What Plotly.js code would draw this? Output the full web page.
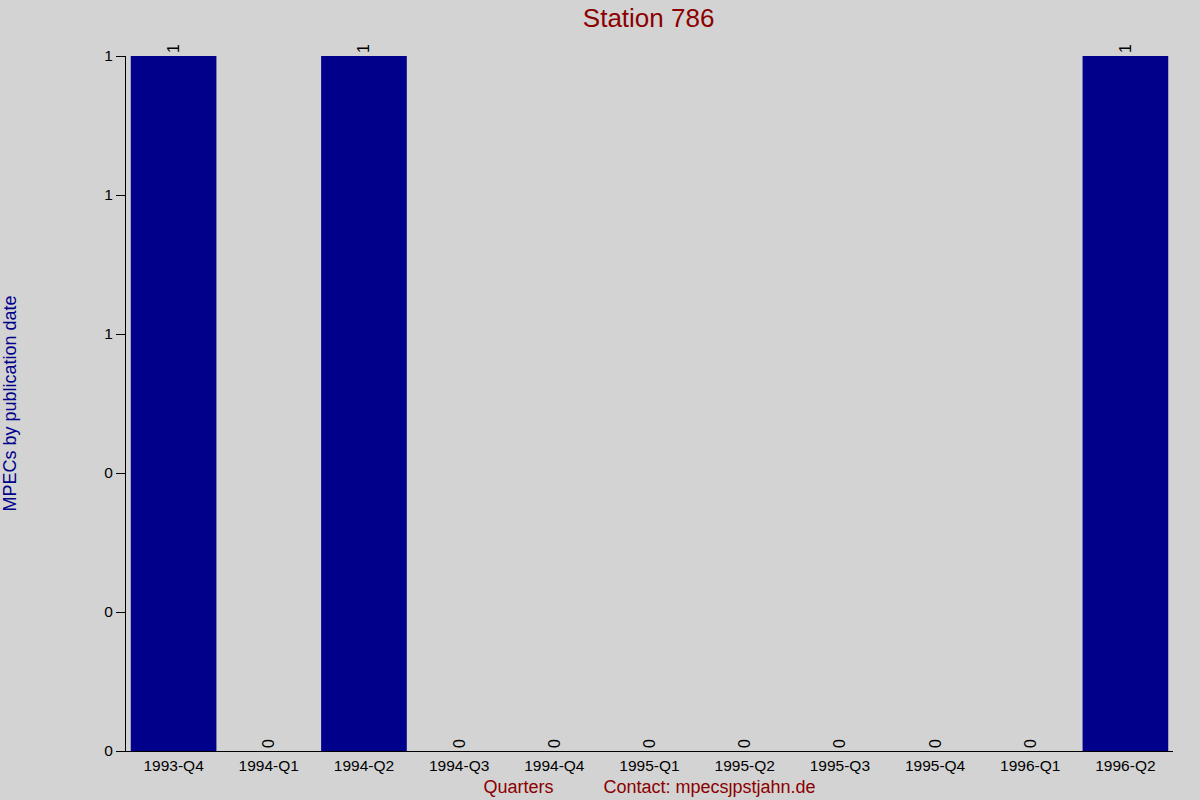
<!DOCTYPE html>
<html>
<head>
<meta charset="utf-8">
<script src="https://cdn.plot.ly/plotly-3.0.1.min.js"></script>
<style>
  html, body { margin: 0; padding: 0; background: #d3d3d3; }
  #chart { width: 1200px; height: 800px; }
</style>
</head>
<body>
<div id="chart"></div>
<script>
const quarters = [
  "1993-Q4", "1994-Q1", "1994-Q2", "1994-Q3", "1994-Q4", "1995-Q1",
  "1995-Q2", "1995-Q3", "1995-Q4", "1996-Q1", "1996-Q2",
];
const mpecCounts = [1, 0, 1, 0, 0, 0, 0, 0, 0, 0, 1];

// y ticks are printed rounded to whole numbers, as in the original
const yTickVals = [0, 0.2, 0.4, 0.6, 0.8, 1];
const yTickText = ["0", "0", "0", "1", "1", "1"];

const font = "Liberation Sans, Arial, sans-serif";

const trace = {
  type: "bar",
  x: quarters,
  y: mpecCounts,
  marker: { color: "#00008b" },
  text: mpecCounts.map(String),
  textposition: "outside",
  textangle: -90,
  textfont: { family: font, size: 16, color: "#000000" },
  cliponaxis: false,
  hoverinfo: "x+y",
};

const layout = {
  width: 1200,
  height: 800,
  margin: { l: 126, r: 27, t: 56, b: 49 },
  paper_bgcolor: "#d3d3d3",
  plot_bgcolor: "#d3d3d3",
  font: { family: font, size: 15, color: "#000000" },
  showlegend: false,
  bargap: 0.1,
  title: {
    text: "Station 786",
    font: { family: font, size: 26, color: "#8b0000" },
    x: 0.5405,
    xanchor: "center",
    y: 0.978,
    yanchor: "middle",
  },
  xaxis: {
    type: "category",
    range: [-0.5, 10.5],
    showline: true,
    linecolor: "#000000",
    linewidth: 1,
    ticks: "",
    showgrid: false,
    zeroline: false,
    tickfont: { family: font, size: 15.5, color: "#000000" },
    title: {
      text: "Quarters          Contact: mpecs\u0237pstjahn.de",
      font: { family: font, size: 18, color: "#8b0000" },
      standoff: 7,
    },
  },
  yaxis: {
    range: [0, 1],
    tickvals: yTickVals,
    ticktext: yTickText,
    showline: true,
    linecolor: "#000000",
    linewidth: 1,
    ticks: "outside",
    ticklen: 9,
    tickcolor: "#000000",
    showgrid: false,
    zeroline: false,
    tickfont: { family: font, size: 15.5, color: "#000000" },
    title: {
      text: "MPECs by publication date",
      font: { family: font, size: 18, color: "#00008b" },
      standoff: 82,
    },
  },
};

Plotly.newPlot("chart", [trace], layout, { displayModeBar: false, staticPlot: true });
</script>
</body>
</html>
